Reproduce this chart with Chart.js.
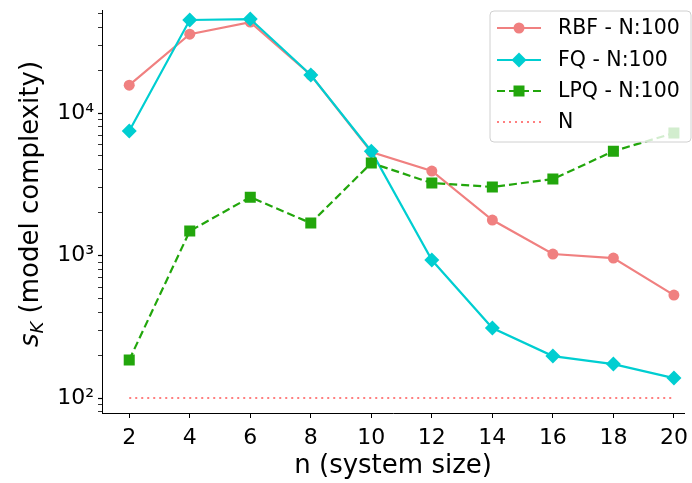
<!DOCTYPE html>
<html>
<head>
<meta charset="utf-8">
<script src="https://cdn.jsdelivr.net/npm/chart.js@4.4.0/dist/chart.umd.min.js"></script>
<style>
html, body { margin: 0; padding: 0; background: #fff; }
</style>
</head>
<body>
<canvas id="complexity_chart" width="692" height="483"></canvas>
<script>
// system sizes n
var sizes = [2, 4, 6, 8, 10, 12, 14, 16, 18, 20];
// model complexity s_K per method
var rbf = [15700, 35800, 43500, 18500, 5320, 3920, 1775, 1025, 960, 528];
var fq = [7480, 45000, 45700, 18500, 5400, 930, 310, 197, 173, 138];
var lpq = [185, 1485, 2570, 1690, 4460, 3230, 3030, 3440, 5400, 7240];
var nRef = [100, 100, 100, 100, 100, 100, 100, 100, 100, 100];
var labels = ['RBF - N:100', 'FQ - N:100', 'LPQ - N:100', 'N'];
var xTicks = [2, 4, 6, 8, 10, 12, 14, 16, 18, 20];
var yDecades = [100, 1000, 10000];

var red = '#f08080', cyan = '#00ced1', green = '#22a60c', pink = '#ff7f7f';
var font = 'DejaVu Sans';

function pts(arr) {
  return sizes.map(function (x, i) { return { x: x, y: arr[i] }; });
}

var supers = { '2': '\u00b2', '3': '\u00b3', '4': '\u2074' };

// legend drawn as a semi-transparent box over the lines
var legendBox = {
  id: 'legendBox',
  afterDatasetsDraw: function (chart) {
    var c = chart.ctx;
    var x0 = 490, y0 = 11, w = 201, h = 131, r = 4;
    c.save();
    c.beginPath();
    c.moveTo(x0 + r, y0);
    c.arcTo(x0 + w, y0, x0 + w, y0 + h, r);
    c.arcTo(x0 + w, y0 + h, x0, y0 + h, r);
    c.arcTo(x0, y0 + h, x0, y0, r);
    c.arcTo(x0, y0, x0 + w, y0, r);
    c.closePath();
    c.fillStyle = 'rgba(255,255,255,0.8)';
    c.fill();
    c.strokeStyle = '#d0d0d0';
    c.lineWidth = 1;
    c.stroke();

    var rows = [28, 60, 91, 122];
    var ds = chart.data.datasets;
    for (var i = 0; i < 4; i++) {
      var y = rows[i];
      var d = ds[i];
      c.beginPath();
      c.setLineDash(d.borderDash || []);
      c.strokeStyle = d.borderColor;
      c.lineWidth = d.borderWidth;
      c.moveTo(497, y);
      c.lineTo(541, y);
      c.stroke();
      c.setLineDash([]);
      c.fillStyle = d.borderColor;
      if (d.pointStyle === 'circle') {
        c.beginPath(); c.arc(519, y, 5.5, 0, Math.PI * 2); c.fill();
      } else if (d.pointStyle === 'rectRot') {
        c.beginPath();
        c.moveTo(519, y - 7.5); c.lineTo(526.5, y); c.lineTo(519, y + 7.5); c.lineTo(511.5, y);
        c.closePath(); c.fill();
      } else if (d.pointStyle === 'rect') {
        c.fillRect(513.5, y - 5.5, 11, 11);
      }
      c.fillStyle = '#000';
      c.font = '20.5px "' + font + '"';
      c.textBaseline = 'middle';
      c.textAlign = 'left';
      c.fillText(labels[i], 558, y + 1);
    }
    c.restore();
  }
};

// y axis title with italic s_K
var yTitle = {
  id: 'yTitle',
  afterDraw: function (chart) {
    var c = chart.ctx;
    c.save();
    c.translate(38, 204);
    c.rotate(-Math.PI / 2);
    c.fillStyle = '#000';
    c.textBaseline = 'alphabetic';
    c.textAlign = 'left';
    var f1 = 'italic 26px "' + font + '"';
    var f2 = 'italic 18px "' + font + '"';
    var f3 = '26px "' + font + '"';
    var rest = ' (model complexity)';
    c.font = f1; var w1 = c.measureText('s').width;
    c.font = f2; var w2 = c.measureText('K').width;
    c.font = f3; var w3 = c.measureText(rest).width;
    var x = -(w1 + w2 + w3) / 2;
    c.font = f1; c.fillText('s', x, 0);
    c.font = f2; c.fillText('K', x + w1, 5);
    c.font = f3; c.fillText(rest, x + w1 + w2, 0);
    c.restore();
  }
};

var myChart = document.getElementById('complexity_chart').getContext('2d');

var lineChart = new Chart(myChart, {
  type: 'line',
  data: {
    datasets: [{
      label: labels[0],
      data: pts(rbf),
      borderColor: red,
      backgroundColor: red,
      borderWidth: 2.2,
      pointStyle: 'circle',
      pointRadius: 5.5,
      pointBorderWidth: 0,
      order: 4
    }, {
      label: labels[1],
      data: pts(fq),
      borderColor: cyan,
      backgroundColor: cyan,
      borderWidth: 2.2,
      pointStyle: 'rectRot',
      pointRadius: 7.5,
      pointBorderWidth: 0,
      order: 3
    }, {
      label: labels[2],
      data: pts(lpq),
      borderColor: green,
      backgroundColor: green,
      borderWidth: 2.2,
      borderDash: [8, 4],
      pointStyle: 'rect',
      pointRadius: 7.8,
      pointBorderWidth: 0,
      order: 2
    }, {
      label: labels[3],
      data: pts(nRef),
      borderColor: pink,
      backgroundColor: pink,
      borderWidth: 2,
      borderDash: [2, 4],
      pointRadius: 0,
      order: 1
    }]
  },
  options: {
    responsive: false,
    animation: false,
    devicePixelRatio: 1,
    layout: { padding: { top: 10, left: 0, right: 0, bottom: 0 } },
    plugins: {
      legend: { display: false },
      tooltip: { enabled: false }
    },
    scales: {
      x: {
        type: 'linear',
        min: 1.1,
        max: 20.34,
        afterBuildTicks: function (scale) {
          scale.ticks = xTicks.map(function (v) { return { value: v }; });
        },
        afterFit: function (scale) {
          scale.height = 70;
          scale.paddingLeft = 0;
          scale.paddingRight = 0;
        },
        grid: { drawOnChartArea: false, drawTicks: true, tickLength: 5, tickColor: '#000', tickWidth: 1 },
        border: { display: true, color: '#000', width: 1 },
        ticks: {
          color: '#000',
          font: { family: font, size: 22 },
          padding: 7,
          maxRotation: 0,
          autoSkip: false
        },
        title: {
          display: true,
          text: 'n (system size)',
          color: '#000',
          font: { family: font, size: 26 },
          padding: { top: 0, bottom: 1 }
        }
      },
      y: {
        type: 'logarithmic',
        min: 78.5,
        max: 52900,
        afterBuildTicks: function (scale) {
          var t = [];
          [10, 100, 1000, 10000].forEach(function (d) {
            for (var k = 1; k < 10; k++) {
              var v = d * k;
              if (v >= 78.5 && v <= 52900) t.push({ value: v, major: yDecades.indexOf(v) >= 0 });
            }
          });
          scale.ticks = t;
        },
        afterFit: function (scale) {
          scale.width = 102;
          scale.paddingTop = 0;
          scale.paddingBottom = 0;
        },
        grid: {
          drawOnChartArea: false,
          drawTicks: true,
          tickLength: 4,
          tickColor: '#000',
          tickWidth: function (ctx) { return ctx.tick && yDecades.indexOf(ctx.tick.value) >= 0 ? 1.2 : 0.8; }
        },
        border: { display: true, color: '#000', width: 1 },
        ticks: {
          color: '#000',
          font: { family: font, size: 22 },
          padding: 4,
          autoSkip: false,
          callback: function (v) {
            var i = yDecades.indexOf(v);
            if (i < 0) return '';
            var e = String(Math.round(Math.log10(v)));
            return '10' + supers[e];
          }
        }
      }
    }
  },
  plugins: [legendBox, yTitle]
});
</script>
</body>
</html>
